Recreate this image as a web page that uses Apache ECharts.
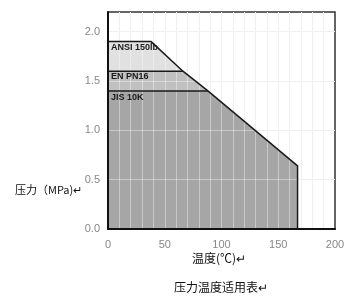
<!DOCTYPE html>
<html><head><meta charset="utf-8">
<script src="https://cdn.jsdelivr.net/npm/echarts@6/dist/echarts.min.js"></script>
<style>html,body{margin:0;padding:0;background:#fff}#c{width:362px;height:305px}</style>
</head><body><div id="c"></div>
<script>
// Data (temperature °C, pressure MPa)
const envelope = [[0,1.9],[38,1.9],[66,1.6],[88,1.4],[167,0.64],[167,0]]; // outer boundary (ANSI 150lb + diagonal)
const enPN16 = [[0,1.6],[66,1.6]];
const jis10K = [[0,1.4],[88,1.4]];
const seriesNames = ['ANSI 150lb','EN PN16','JIS 10K'];
const xTicks = [0,50,100,150,200];
const yTicks = [0.0,0.5,1.0,1.5,2.0];

const enFill = enPN16.slice(0,1).concat(envelope.slice(2));
const jisFill = jis10K.slice(0,1).concat(envelope.slice(3));

const chart = echarts.init(document.getElementById('c'));
const font = '"Liberation Sans", Arial, sans-serif';
const baseX = {type:'value',min:0,max:200,interval:10,gridIndex:0};
const baseY = {type:'value',min:0,max:2.2,interval:0.5,gridIndex:0};
function hiddenAxis(b, z, color){
  return Object.assign({}, b, {z:z, axisLine:{show:false}, axisTick:{show:false}, axisLabel:{show:false},
    splitLine:{show:true, showMinLine:false, showMaxLine:false, lineStyle:{color:color,width:1}}});
}
const fillSeries = (name, data, color) => ({type:'line', name:name, data:data, z:2, symbol:'none', silent:true,
  lineStyle:{width:0, opacity:0}, areaStyle:{color:color, opacity:1}, xAxisIndex:0, yAxisIndex:0, animation:false});
const outline = (data) => ({type:'line', data:data, z:6, symbol:'none', silent:true,
  lineStyle:{color:'#1a1a1a', width:1.5}, xAxisIndex:0, yAxisIndex:0, animation:false});

chart.setOption({
  animation:false,
  grid:{left:108,right:27,top:12,bottom:76,show:true,borderColor:'#333',borderWidth:1.5,backgroundColor:'#fff'},
  title:[
    {text:'压力（MPa)↵',left:10,top:179,textStyle:{fontSize:11,fontWeight:'normal',color:'#111',fontFamily:'"Noto Sans CJK SC", sans-serif'}},
    {text:'温度(℃)↵',top:252,padding:0,left:192,textStyle:{fontSize:12,fontWeight:'normal',color:'#111',fontFamily:'"Noto Sans CJK SC", sans-serif'}},
    {text:'压力温度适用表↵',top:281,left:174,padding:0,textStyle:{fontSize:12,fontWeight:'normal',color:'#111',fontFamily:'"Noto Sans CJK SC", sans-serif'}}
  ],
  xAxis:[
    Object.assign({}, baseX, {z:10, axisLine:{show:true,onZero:false,lineStyle:{color:'#111',width:2}}, axisTick:{show:false},
      splitLine:{show:false},
      axisLabel:{color:'#888',fontSize:11,fontFamily:font,margin:10,
        formatter:v=> xTicks.indexOf(v)>=0 ? String(v) : ''}}),
    hiddenAxis(baseX, 0, '#e6e6e6'),
    hiddenAxis(baseX, 4, 'rgba(255,255,255,0.38)')
  ],
  yAxis:[
    Object.assign({}, baseY, {z:10, axisLine:{show:true,onZero:false,lineStyle:{color:'#111',width:2}}, axisTick:{show:false},
      splitLine:{show:false},
      axisLabel:{color:'#888',fontSize:11,fontFamily:font,margin:8,
        formatter:v=>{ const t = yTicks.find(y=>Math.abs(y-v)<1e-6); return t===undefined ? '' : t.toFixed(1);} }}),
    hiddenAxis(baseY, 0, '#e6e6e6'),
    hiddenAxis(baseY, 4, 'rgba(255,255,255,0.38)')
  ],
  series:[
    fillSeries(seriesNames[0], envelope, '#e1e1e1'),
    fillSeries(seriesNames[1], enFill, '#c0c0c0'),
    fillSeries(seriesNames[2], jisFill, '#a6a6a6'),
    outline(envelope),
    outline(enPN16),
    outline(jis10K)
  ],
  graphic:[
    {type:'text',left:111,top:43,z:20,style:{text:seriesNames[0],fill:'#1a1a1a',font:'bold 9px "Liberation Sans", Arial, sans-serif'}},
    {type:'text',left:111,top:72,z:20,style:{text:seriesNames[1],fill:'#1a1a1a',font:'bold 9px "Liberation Sans", Arial, sans-serif'}},
    {type:'text',left:111,top:93,z:20,style:{text:seriesNames[2],fill:'#1a1a1a',font:'bold 9px "Liberation Sans", Arial, sans-serif'}}
  ]
});
</script></body></html>
